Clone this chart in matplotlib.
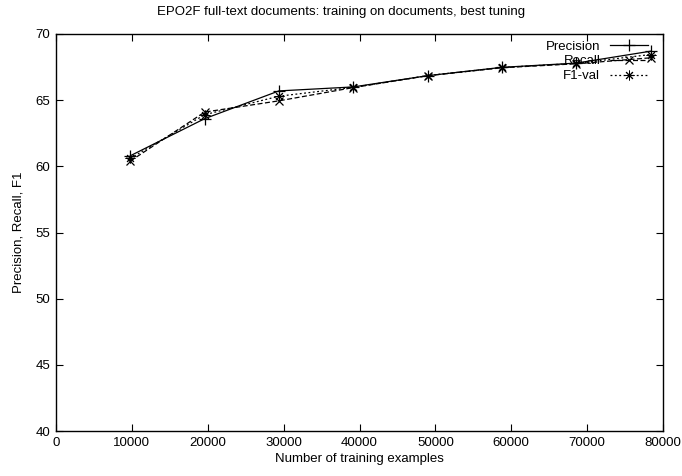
import matplotlib
matplotlib.use("Agg")
import matplotlib.pyplot as plt

plt.rcParams['font.family'] = ['Liberation Sans', 'DejaVu Sans']

# training set sizes
n_examples = [9795, 19590, 29385, 39180, 48975, 58770, 68565, 78360]
precision = [60.8, 63.6, 65.7, 66.0, 66.85, 67.48, 67.8, 68.7]
recall = [60.4, 64.1, 64.95, 65.95, 66.85, 67.45, 67.75, 68.2]
f1_val = [60.6, 63.9, 65.3, 65.97, 66.85, 67.47, 67.78, 68.45]

fs = 9.5

fig = plt.figure(figsize=(6.82, 4.76), dpi=100)
ax = fig.add_axes([56 / 682, 1 - 431 / 476, (663 - 56) / 682, (431 - 34) / 476])

ax.plot(n_examples, precision, color='black', lw=0.9, ls='-',
        marker='+', ms=8, mew=0.9, label='Precision')
ax.plot(n_examples, recall, color='black', lw=0.9, ls=(0, (4, 2)),
        marker='x', ms=6, mew=0.9, label='Recall')
# gnuplot style asterisk: plus and cross together
ax.plot(n_examples, f1_val, color='black', lw=0.9, ls=(0, (1.5, 2)),
        marker=(8, 2, 0), ms=7, mew=0.7, label='F1-val')

ax.set_xlim(0, 80000)
ax.set_ylim(40, 70)
ax.set_xticks(range(0, 80001, 10000))
ax.set_yticks(range(40, 71, 5))
ax.tick_params(direction='in', length=5, width=0.8, top=True, right=True,
               labelsize=fs, pad=4)
for s in ax.spines.values():
    s.set_linewidth(1.0)

fig.text(0.5, 1 - 12 / 476, 'EPO2F full-text documents: training on documents, best tuning',
         fontsize=fs, ha='center', va='center')
ax.set_xlabel('Number of training examples', fontsize=fs, labelpad=3)
ax.set_ylabel('Precision, Recall, F1', fontsize=fs, labelpad=8)

ax.legend(loc='upper right', frameon=False, markerfirst=False, fontsize=fs,
          handlelength=2.9, handletextpad=0.7, labelspacing=0.2,
          borderpad=0, borderaxespad=0, bbox_to_anchor=(0.975, 0.984))

fig.savefig('out.png', dpi=100)
